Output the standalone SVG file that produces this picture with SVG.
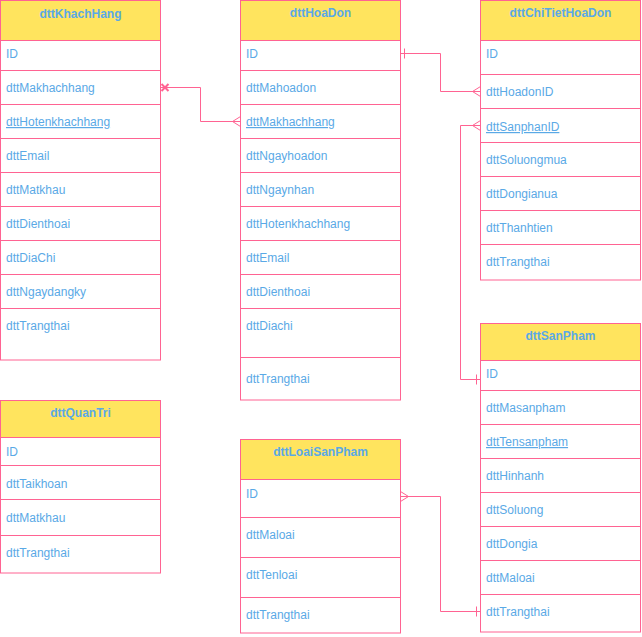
<svg xmlns="http://www.w3.org/2000/svg" width="642" height="637" viewBox="0 0 642 637">
<style>
.box{fill:#fff;stroke:#FF6392;stroke-width:1}
.hd{fill:#FFE45E;stroke:#FF6392;stroke-width:1}
.sep{stroke:#FF6392;stroke-width:1}
.t{font-family:"Liberation Sans",Arial,sans-serif;font-size:12px;fill:#5AA9E6}
.h{font-family:"Liberation Sans",Arial,sans-serif;font-size:12px;font-weight:bold;fill:#5AA9E6;text-anchor:middle}
.u{text-decoration:underline}
.c{fill:none;stroke:#FF6392;stroke-width:1}
</style>
<rect width="642" height="637" fill="#fff"/>
<g id="dttKhachHang">
<rect class="box" x="0.5" y="0.5" width="160" height="359.5"/>
<rect class="hd" x="0.5" y="0.5" width="160" height="40"/>
<text class="h" x="80.5" y="18">dttKhachHang</text>
<path class="sep" d="M0.5 70.5H160.5M0.5 104.5H160.5M0.5 138.5H160.5M0.5 172.5H160.5M0.5 206.5H160.5M0.5 240.5H160.5M0.5 274.5H160.5M0.5 308.5H160.5"/>
<text class="t" x="6" y="58">ID</text>
<text class="t" x="6" y="92">dttMakhachhang</text>
<text class="t u" x="6" y="126">dttHotenkhachhang</text>
<text class="t" x="6" y="160">dttEmail</text>
<text class="t" x="6" y="194">dttMatkhau</text>
<text class="t" x="6" y="228">dttDienthoai</text>
<text class="t" x="6" y="262">dttDiaChi</text>
<text class="t" x="6" y="296">dttNgaydangky</text>
<text class="t" x="6" y="330">dttTrangthai</text>
</g>
<g id="dttHoaDon">
<rect class="box" x="240.5" y="0.5" width="160" height="399.5"/>
<rect class="hd" x="240.5" y="0.5" width="160" height="40"/>
<text class="h" x="320.5" y="17">dttHoaDon</text>
<path class="sep" d="M240.5 70.5H400.5M240.5 104.5H400.5M240.5 138.5H400.5M240.5 172.5H400.5M240.5 206.5H400.5M240.5 240.5H400.5M240.5 274.5H400.5M240.5 308.5H400.5M240.5 357.5H400.5"/>
<text class="t" x="246" y="58">ID</text>
<text class="t" x="246" y="92">dttMahoadon</text>
<text class="t u" x="246" y="126">dttMakhachhang</text>
<text class="t" x="246" y="160">dttNgayhoadon</text>
<text class="t" x="246" y="194">dttNgaynhan</text>
<text class="t" x="246" y="228">dttHotenkhachhang</text>
<text class="t" x="246" y="262">dttEmail</text>
<text class="t" x="246" y="296">dttDienthoai</text>
<text class="t" x="246" y="330">dttDiachi</text>
<text class="t" x="246" y="383">dttTrangthai</text>
</g>
<g id="dttChiTietHoaDon">
<rect class="box" x="480.5" y="0.5" width="160" height="279.5"/>
<rect class="hd" x="480.5" y="0.5" width="160" height="40"/>
<text class="h" x="560.5" y="17">dttChiTietHoaDon</text>
<path class="sep" d="M480.5 74.5H640.5M480.5 108.5H640.5M480.5 142.5H640.5M480.5 176.5H640.5M480.5 210.5H640.5M480.5 244.5H640.5"/>
<text class="t" x="486" y="58">ID</text>
<text class="t" x="486" y="96">dttHoadonID</text>
<text class="t u" x="486" y="131">dttSanphanID</text>
<text class="t" x="486" y="164">dttSoluongmua</text>
<text class="t" x="486" y="198">dttDongianua</text>
<text class="t" x="486" y="232">dttThanhtien</text>
<text class="t" x="486" y="266">dttTrangthai</text>
</g>
<g id="dttSanPham">
<rect class="box" x="480.5" y="323.5" width="160" height="308.5"/>
<rect class="hd" x="480.5" y="323.5" width="160" height="37"/>
<text class="h" x="560.5" y="340">dttSanPham</text>
<path class="sep" d="M480.5 390.5H640.5M480.5 424.5H640.5M480.5 458.5H640.5M480.5 492.5H640.5M480.5 526.5H640.5M480.5 560.5H640.5M480.5 594.5H640.5"/>
<text class="t" x="486" y="378">ID</text>
<text class="t" x="486" y="412">dttMasanpham</text>
<text class="t u" x="486" y="446">dttTensanpham</text>
<text class="t" x="486" y="480">dttHinhanh</text>
<text class="t" x="486" y="514">dttSoluong</text>
<text class="t" x="486" y="548">dttDongia</text>
<text class="t" x="486" y="582">dttMaloai</text>
<text class="t" x="486" y="616">dttTrangthai</text>
</g>
<g id="dttQuanTri">
<rect class="box" x="0.5" y="400.5" width="160" height="172.5"/>
<rect class="hd" x="0.5" y="400.5" width="160" height="37"/>
<text class="h" x="80.5" y="417">dttQuanTri</text>
<path class="sep" d="M0.5 465.5H160.5M0.5 499.5H160.5M0.5 535.5H160.5"/>
<text class="t" x="6" y="456">ID</text>
<text class="t" x="6" y="488">dttTaikhoan</text>
<text class="t" x="6" y="522">dttMatkhau</text>
<text class="t" x="6" y="557">dttTrangthai</text>
</g>
<g id="dttLoaiSanPham">
<rect class="box" x="240.5" y="439.5" width="160" height="193.5"/>
<rect class="hd" x="240.5" y="439.5" width="160" height="40"/>
<text class="h" x="320.5" y="456">dttLoaiSanPham</text>
<path class="sep" d="M240.5 517.5H400.5M240.5 557.5H400.5M240.5 597.5H400.5"/>
<text class="t" x="246" y="498">ID</text>
<text class="t" x="246" y="539">dttMaloai</text>
<text class="t" x="246" y="579">dttTenloai</text>
<text class="t" x="246" y="619">dttTrangthai</text>
</g>
<g id="connectors">
<path class="c" d="M240.5 121.5H200.5V87.5H160.5"/>
<path class="c" d="M240.5 116.5L232.5 121.5L240.5 126.5"/>
<path d="M161.5 84L168.5 91M161.5 91L168.5 84" stroke="#FF6392" stroke-width="2"/>
<path class="c" d="M400.5 53.5H440.5V91.5H480.5"/>
<path class="c" d="M404.5 48.5V58.5"/>
<path class="c" d="M480.5 86.5L472.5 91.5L480.5 96.5"/>
<path class="c" d="M480.5 125.5H460.5V379.5H480.5"/>
<path class="c" d="M480.5 120.5L472.5 125.5L480.5 130.5"/>
<path class="c" d="M476.5 374.5V384.5"/>
<path class="c" d="M400.5 496.5H440.5V611.5H480.5"/>
<path class="c" d="M400.5 491.5L408.5 496.5L400.5 501.5"/>
<path class="c" d="M476.5 606.5V616.5"/>
</g>
</svg>
